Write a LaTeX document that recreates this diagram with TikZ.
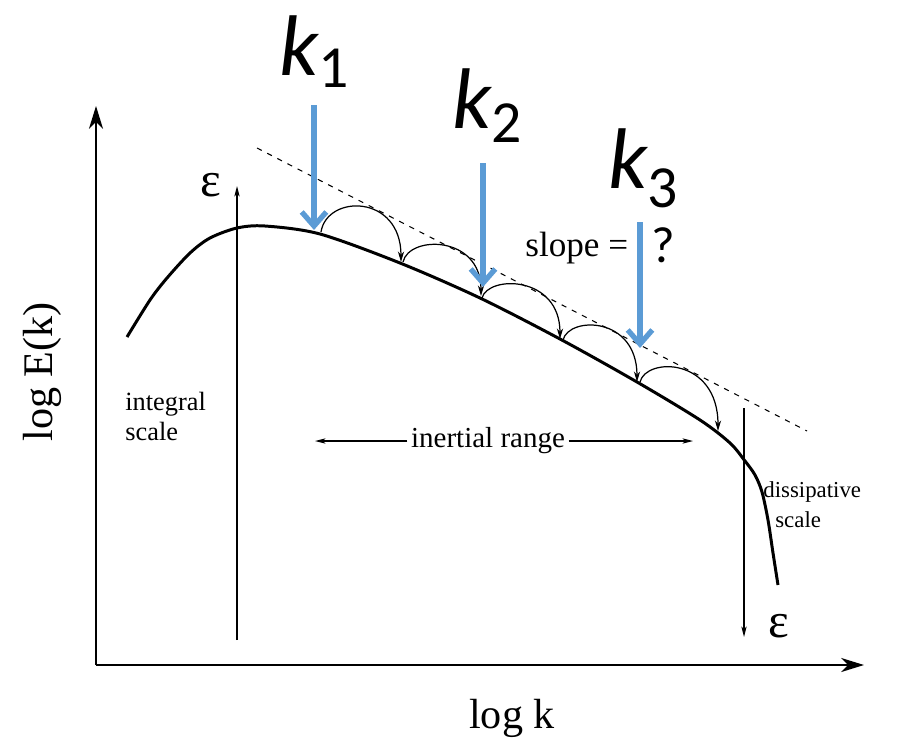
\documentclass[tikz,border=0pt]{standalone}
\usepackage{fontspec}
\setmainfont{Liberation Serif}
\newfontfamily\calibrifont{Carlito}
\usetikzlibrary{arrows.meta}
\definecolor{kblue}{RGB}{91,155,213}
\begin{document}
\begin{tikzpicture}[x=0.02cm,y=-0.02cm,
  axisline/.style={line width=1.1pt,-{Stealth[length=13pt,width=8pt,inset=4pt]}},
  specline/.style={line width=1.7pt,line join=round},
  thinarrow/.style={line width=0.7pt,-{Stealth[length=6pt,width=3pt,inset=1.5pt]}},
  cascade/.style={line width=0.7pt,-{Stealth[length=6pt,width=3.5pt]}},
  karrow/.style={kblue,line width=3.4pt,-{Straight Barb[length=8pt,width=14pt,line width=3pt]}},
  klabel/.style={anchor=base west,inner sep=0pt,font=\calibrifont\fontsize{49}{49}\selectfont},
  txt/.style={inner sep=0pt},
]
\useasboundingbox[fill=white] (0,0) rectangle (909,744);

% axes
\coordinate (O) at (96,665);
\coordinate (ytip) at (96,106);
\coordinate (xtip) at (864,665);
\draw[axisline] (O) -- (ytip);
\draw[axisline] (O) -- (xtip);

% dashed slope line
\coordinate (d1) at (257,148);
\coordinate (d2) at (807,431);
\draw[line width=0.6pt,dash pattern=on 3pt off 3.5pt] (d1) -- (d2);

% spectrum curve
\draw[specline] plot[smooth,tension=0.5] coordinates {(127,337) (150,300) (167,278) (190,253) (210,238) (237,228) (265,226) (320,234) (400,263) (480,298) (560,339) (637,382) (700,420) (730,443) (745,461) (755,475) (762,492) (768,520) (773,553) (778,585)};

% energy injection / dissipation arrows
\coordinate (inj0) at (237,640);
\coordinate (inj1) at (237,186);
\draw[thinarrow] (inj0) -- (inj1);
\coordinate (dis0) at (744,408);
\coordinate (dis1) at (744,637);
\draw[thinarrow] (dis0) -- (dis1);

% cascade arcs
\foreach \sx/\sy/\ex/\ey/\c [count=\i] in {321/232/401/262/194, 403/262/481/296/235, 482/298/560/339/275, 563/340/637/382/316, 640/382/718/431/357}{
  \coordinate (cs\i) at (\sx,\sy);
  \coordinate (ce\i) at (\ex,\ey);
  \draw[cascade] (cs\i) .. controls (\sx+6,\c) and (\ex,\c) .. (ce\i);
}

% labels
\node[rotate=90,font=\fontsize{24}{28}\selectfont] (ylab) at (42,372) {log E(k)};
\node[anchor=base,font=\fontsize{24}{28}\selectfont] (xlab) at (512,728) {log k};
\node[txt,anchor=base west,font=\fontsize{15}{18}\selectfont] (int1) at (125,410) {integral};
\node[txt,anchor=base west,font=\fontsize{15}{18}\selectfont] (int2) at (125,440) {scale};
\node[txt,anchor=base west,font=\fontsize{13}{16}\selectfont] (dis1t) at (763,497) {dissipative};
\node[txt,anchor=base west,font=\fontsize{13}{16}\selectfont] (dis2t) at (775,527) {scale};
\node[inner sep=2pt,font=\fontsize{16.5}{20}\selectfont] (ir) at (488,441) {inertial range};
\coordinate (irL) at (315,441);
\coordinate (irR) at (693,441);
\draw[thinarrow] (ir.west) -- (irL);
\draw[thinarrow] (ir.east) -- (irR);
\node[txt,font=\fontsize{28}{30}\selectfont] (eps1) at (211,185) {ε};
\node[txt,font=\fontsize{28}{30}\selectfont] (eps2) at (779,626) {ε};
\node[txt,anchor=base west,font=\fontsize{20}{24}\selectfont] (slope) at (525,256) {slope =};
\node[txt,anchor=base west,font=\calibrifont\fontsize{29}{30}\selectfont] (q) at (651,262) {?};

% k labels and blue arrows
\node[klabel] (k1) at (279,75) {\itshape k\upshape\raisebox{-7pt}{\fontsize{34}{34}\selectfont 1}};
\node[klabel] (k2) at (452,128) {\itshape k\upshape\raisebox{-8pt}{\fontsize{34}{34}\selectfont 2}};
\node[klabel] (k3) at (608,188) {\itshape k\upshape\raisebox{-11pt}{\fontsize{34}{34}\selectfont 3}};
\coordinate (a1s) at (314,105);
\coordinate (a1e) at (314,230);
\coordinate (a2s) at (483,163);
\coordinate (a2e) at (483,287);
\coordinate (a3s) at (640,222);
\coordinate (a3e) at (640,348);
\draw[karrow] (a1s) -- (a1e);
\draw[karrow] (a2s) -- (a2e);
\draw[karrow] (a3s) -- (a3e);
\end{tikzpicture}
\end{document}
